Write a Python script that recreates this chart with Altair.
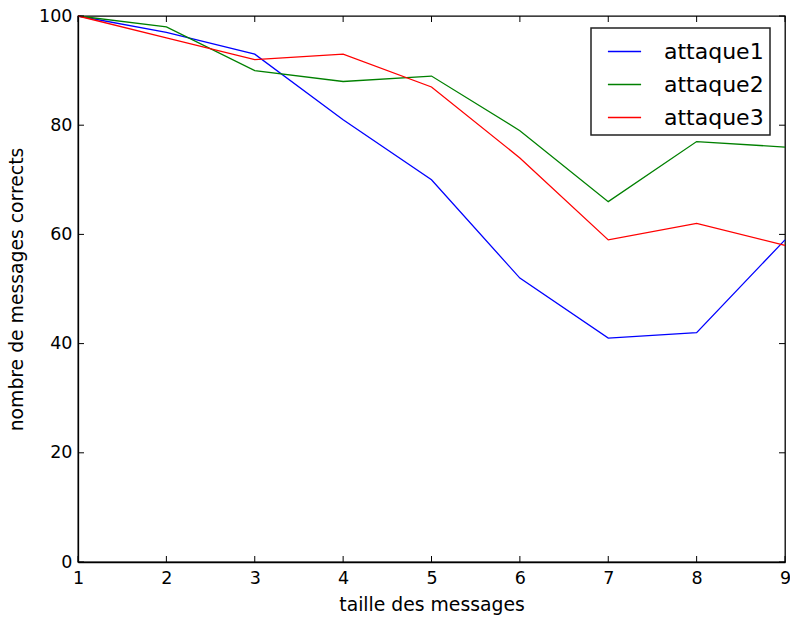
import altair as alt
import pandas as pd

sizes = [1, 2, 3, 4, 5, 6, 7, 8, 9]
attaque1 = [100, 97, 93, 81, 70, 52, 41, 42, 59]
attaque2 = [100, 98, 90, 88, 89, 79, 66, 77, 76]
attaque3 = [100, 96, 92, 93, 87, 74, 59, 62, 58]
series_names = ["attaque1", "attaque2", "attaque3"]
series_colors = ["#0000ff", "#008000", "#ff0000"]
xticks = [1, 2, 3, 4, 5, 6, 7, 8, 9]
yticks = [0, 20, 40, 60, 80, 100]

W, H = 707, 546
TL = 6

rows = []
for name, vals in zip(series_names, [attaque1, attaque2, attaque3]):
    for s, v in zip(sizes, vals):
        rows.append({"taille": s, "valeur": v, "serie": name})
df = pd.DataFrame(rows)

xscale = alt.Scale(domain=[1, 9], nice=False, zero=False)
yscale = alt.Scale(domain=[0, 100], nice=False)

font = "DejaVu Sans"

lines = alt.Chart(df).mark_line(strokeWidth=1.3).encode(
    x=alt.X("taille:Q", scale=xscale, title="taille des messages",
            axis=alt.Axis(values=xticks, format="d", ticks=False, grid=False,
                          labelOverlap=False, labelFlush=False, labelPadding=7,
                          titlePadding=9)),
    y=alt.Y("valeur:Q", scale=yscale, title="nombre de messages corrects",
            axis=alt.Axis(values=yticks, format="d", ticks=False, grid=False,
                          labelOverlap=False, labelFlush=False, labelPadding=6,
                          titlePadding=12)),
    color=alt.Color("serie:N", scale=alt.Scale(domain=series_names, range=series_colors),
                    legend=alt.Legend(title=None, orient="none", legendX=513, legendY=12,
                                      symbolType="stroke", symbolSize=1100,
                                      symbolStrokeWidth=1.5, labelFontSize=22,
                                      labelFont=font, rowPadding=4, labelOffset=22,
                                      padding=6, strokeColor="#222222",
                                      fillColor="white", labelColor="black",
                                      symbolOffset=10)),
)

xt = pd.DataFrame({"t": xticks})
yt = pd.DataFrame({"t": yticks})

xt_bottom = alt.Chart(xt).mark_rule(color="black", strokeWidth=1).encode(
    x=alt.X("t:Q", scale=xscale), y=alt.value(H), y2=alt.value(H - TL))
xt_top = alt.Chart(xt).mark_rule(color="black", strokeWidth=1).encode(
    x=alt.X("t:Q", scale=xscale), y=alt.value(0), y2=alt.value(TL))
yt_left = alt.Chart(yt).mark_rule(color="black", strokeWidth=1).encode(
    y=alt.Y("t:Q", scale=yscale), x=alt.value(0), x2=alt.value(TL))
yt_right = alt.Chart(yt).mark_rule(color="black", strokeWidth=1).encode(
    y=alt.Y("t:Q", scale=yscale), x=alt.value(W), x2=alt.value(W - TL))

chart = alt.layer(lines, xt_bottom, xt_top, yt_left, yt_right).properties(
    width=W, height=H,
    autosize=alt.AutoSizeParams(type="none"),
    padding={"left": 78, "top": 16, "right": 5, "bottom": 56},
).configure(background="white").configure_view(
    stroke="black", strokeWidth=1.3
).configure_axis(
    labelFont=font, titleFont=font, labelFontSize=17.5, titleFontSize=18.8,
    titleFontWeight="normal", labelColor="black", titleColor="black",
    domainColor="black", domainWidth=1.3,
).configure_legend(strokeWidth=1.5)

chart.save("out.html", embed_options={"renderer": "svg", "actions": False})
